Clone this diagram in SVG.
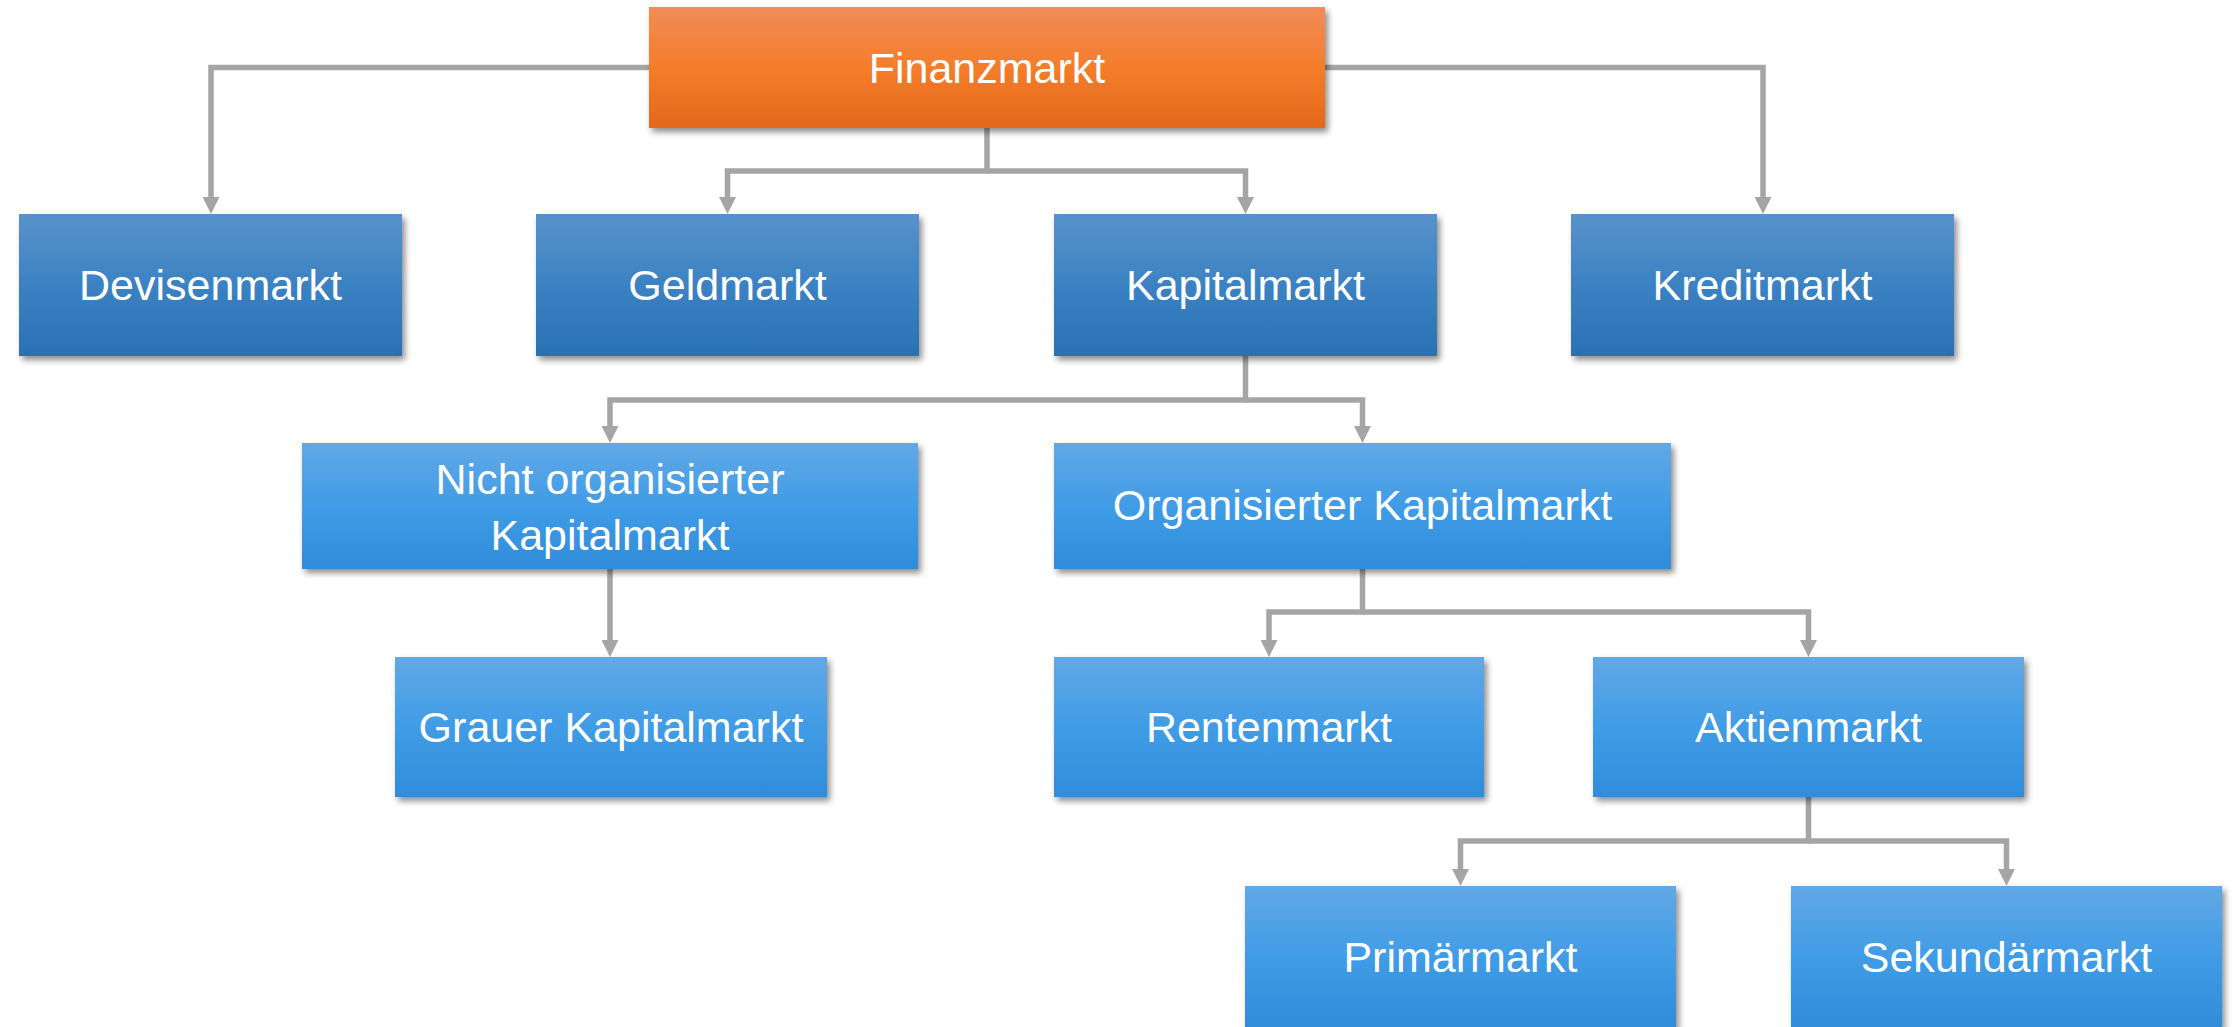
<svg xmlns="http://www.w3.org/2000/svg" width="2236" height="1027" viewBox="0 0 2236 1027">
  <defs>
    <linearGradient id="gOrange" x1="0" y1="0" x2="0" y2="1">
      <stop offset="0" stop-color="#F18C58"/>
      <stop offset="0.5" stop-color="#F47D2B"/>
      <stop offset="1" stop-color="#E46819"/>
    </linearGradient>
    <linearGradient id="gBlueDark" x1="0" y1="0" x2="0" y2="1">
      <stop offset="0" stop-color="#5892CA"/>
      <stop offset="0.5" stop-color="#3B82C3"/>
      <stop offset="1" stop-color="#2A71B3"/>
    </linearGradient>
    <linearGradient id="gBlueLight" x1="0" y1="0" x2="0" y2="1">
      <stop offset="0" stop-color="#62A8E6"/>
      <stop offset="0.5" stop-color="#409CE6"/>
      <stop offset="1" stop-color="#2F8CDA"/>
    </linearGradient>
    <filter id="shadow" x="-5%" y="-10%" width="112%" height="130%">
      <feDropShadow dx="3" dy="4" stdDeviation="3" flood-color="#000" flood-opacity="0.45"/>
    </filter>
    <marker id="arrow" markerUnits="userSpaceOnUse" markerWidth="17" markerHeight="17" refX="2" refY="8.5" orient="auto">
      <path d="M0,0 L17,8.5 L0,17 z" fill="#A5A5A5"/>
    </marker>
  </defs>
  <style>
    .box { filter: url(#shadow); }
    .orange { fill: url(#gOrange); }
    .dark { fill: url(#gBlueDark); }
    .light { fill: url(#gBlueLight); }
    .label { font-family: "Liberation Sans", Arial, sans-serif; font-size: 43px; fill: #FFFFFF; text-anchor: middle; }
    .conn { fill: none; stroke: #A5A5A5; stroke-width: 5.5; stroke-linejoin: miter; stroke-linecap: butt; }
    .conn.arr { marker-end: url(#arrow); }
  </style>

  <rect width="2236" height="1027" fill="#FFFFFF"/>

  <!-- connectors -->
  <g id="connectors">
    <path class="conn arr" d="M649,67.5 H211 V199"/>
    <path class="conn arr" d="M1325,67.5 H1763 V199"/>
    <path class="conn arr" d="M987,128 V171 H727.5 V199"/>
    <path class="conn arr" d="M987,171 H1245.5 V199"/>
    <path class="conn arr" d="M1245.5,356 V400 H610 V428"/>
    <path class="conn arr" d="M1245.5,400 H1362.5 V428"/>
    <path class="conn arr" d="M610,569 V642"/>
    <path class="conn arr" d="M1362.5,569 V612 H1269 V642"/>
    <path class="conn arr" d="M1362.5,612 H1808.5 V642"/>
    <path class="conn arr" d="M1808.5,797 V841 H1460.5 V871"/>
    <path class="conn arr" d="M1808.5,841 H2006.5 V871"/>
  </g>

  <!-- level 0 -->
  <g id="finanzmarkt">
    <rect class="box orange" x="649" y="7" width="676" height="121"/>
    <text class="label" x="987" y="83">Finanzmarkt</text>
  </g>

  <!-- level 1 -->
  <g id="devisenmarkt">
    <rect class="box dark" x="19" y="214" width="383" height="142"/>
    <text class="label" x="210.5" y="300">Devisenmarkt</text>
  </g>
  <g id="geldmarkt">
    <rect class="box dark" x="536" y="214" width="383" height="142"/>
    <text class="label" x="727.5" y="300">Geldmarkt</text>
  </g>
  <g id="kapitalmarkt">
    <rect class="box dark" x="1054" y="214" width="383" height="142"/>
    <text class="label" x="1245.5" y="300">Kapitalmarkt</text>
  </g>
  <g id="kreditmarkt">
    <rect class="box dark" x="1571" y="214" width="383" height="142"/>
    <text class="label" x="1762.5" y="300">Kreditmarkt</text>
  </g>

  <!-- level 2 -->
  <g id="nicht-organisierter-kapitalmarkt">
    <rect class="box light" x="302" y="443" width="616" height="126"/>
    <text class="label" x="610" y="494">Nicht organisierter</text>
    <text class="label" x="610" y="550">Kapitalmarkt</text>
  </g>
  <g id="organisierter-kapitalmarkt">
    <rect class="box light" x="1054" y="443" width="617" height="126"/>
    <text class="label" x="1362.5" y="520">Organisierter Kapitalmarkt</text>
  </g>

  <!-- level 3 -->
  <g id="grauer-kapitalmarkt">
    <rect class="box light" x="395" y="657" width="432" height="140"/>
    <text class="label" x="611" y="742">Grauer Kapitalmarkt</text>
  </g>
  <g id="rentenmarkt">
    <rect class="box light" x="1054" y="657" width="430" height="140"/>
    <text class="label" x="1269" y="742">Rentenmarkt</text>
  </g>
  <g id="aktienmarkt">
    <rect class="box light" x="1593" y="657" width="431" height="140"/>
    <text class="label" x="1808.5" y="742">Aktienmarkt</text>
  </g>

  <!-- level 4 -->
  <g id="primaermarkt">
    <rect class="box light" x="1245" y="886" width="431" height="142"/>
    <text class="label" x="1460.5" y="972">Primärmarkt</text>
  </g>
  <g id="sekundaermarkt">
    <rect class="box light" x="1791" y="886" width="431" height="142"/>
    <text class="label" x="2006.5" y="972">Sekundärmarkt</text>
  </g>
</svg>
